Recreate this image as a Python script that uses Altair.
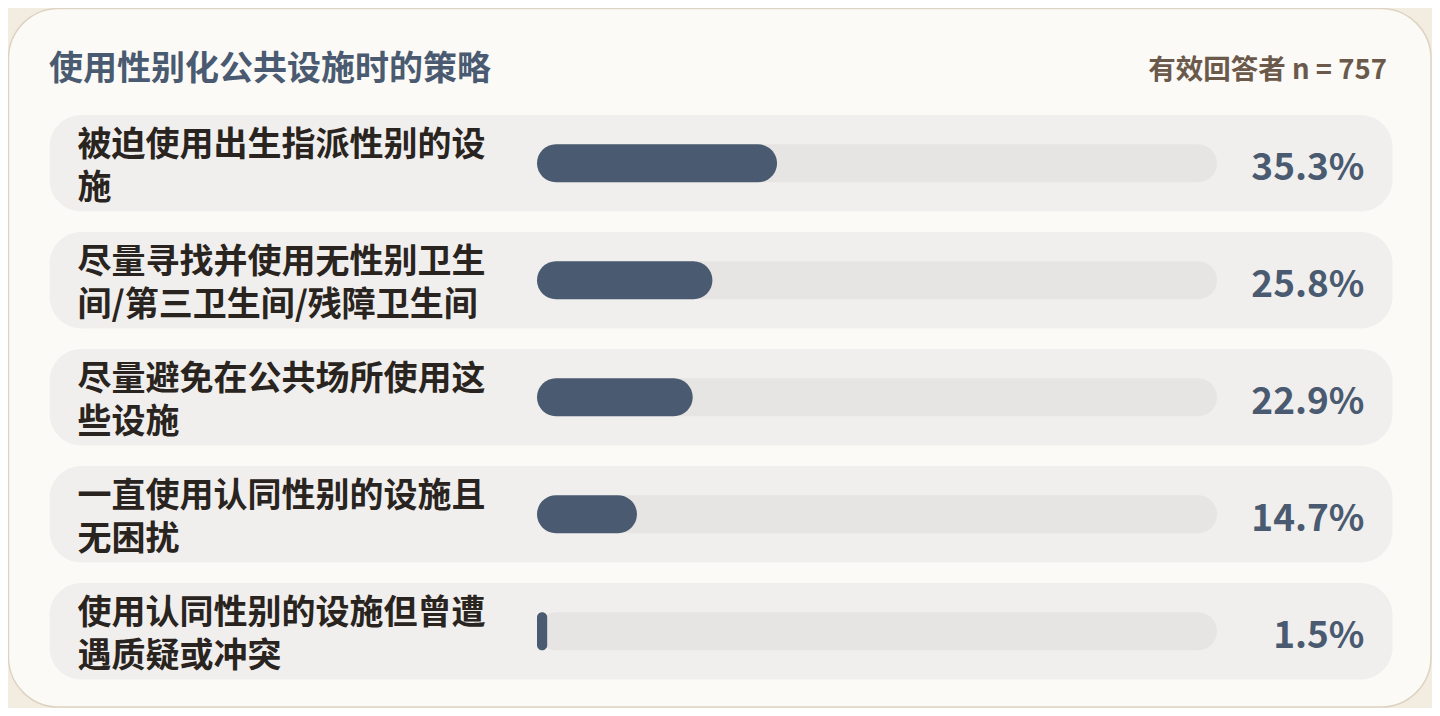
import altair as alt
import pandas as pd

# ---- data ----
title = "使用性别化公共设施时的策略"
subtitle = "有效回答者 n = 757"
categories = [
    "被迫使用出生指派性别的设施",
    "尽量寻找并使用无性别卫生间/第三卫生间/残障卫生间",
    "尽量避免在公共场所使用这些设施",
    "一直使用认同性别的设施且无困扰",
    "使用认同性别的设施但曾遭遇质疑或冲突",
]
values = [35.3, 25.8, 22.9, 14.7, 1.5]

WRAP = 12
label_lines = [[c[:WRAP], c[WRAP:]] if len(c) > WRAP else [c] for c in categories]
value_labels = [f"{v:.1f}%" for v in values]

df = pd.DataFrame({
    "cat": categories,
    "value": values,
    "start": [0] * len(values),
    "full": [100] * len(values),
    "label": label_lines,
    "vlabel": value_labels,
})

W, H = 1424, 700
S = -8  # shift of page margin

row_centers = [163.3 + 117 * i + S for i in range(len(categories))]
yenc = alt.Y("cat:N", scale=alt.Scale(type="point", domain=categories,
                                       range=[row_centers[0], row_centers[-1]], padding=0),
             axis=None)
xscale = alt.Scale(domain=[0, 100], range=[537 + S, 1217 + S])

base = alt.Chart(df)

card = alt.Chart(pd.DataFrame({"k": [1]})).mark_rect(
    fill="#fbfaf7", stroke="#ddd3c2", strokeWidth=1.5, cornerRadius=50
).encode(x=alt.value(0.5), x2=alt.value(1423), y=alt.value(0.5), y2=alt.value(699))

rowbg = base.mark_bar(size=96.5, cornerRadius=32, color="#f0efed").encode(
    y=yenc, x=alt.value(49.5 + S), x2=alt.value(1392.5 + S)
)

track = base.mark_bar(size=38, cornerRadius=19, color="#e6e5e3").encode(
    y=yenc, x=alt.X("start:Q", scale=xscale, axis=None), x2="full:Q"
)

bar = base.mark_bar(size=38, cornerRadius=19, color="#4a5a70").encode(
    y=yenc, x=alt.X("start:Q", scale=xscale, axis=None), x2="value:Q"
)

labels = base.mark_text(
    align="left", baseline="alphabetic", dy=-7, lineHeight=43,
    font="Noto Sans CJK SC", fontSize=34, fontWeight="bold", color="#2a2420"
).encode(y=yenc, x=alt.value(77.5 + S), text="label")

vlabels = base.mark_text(
    align="right", baseline="alphabetic", dy=17,
    font="Noto Sans CJK SC", fontSize=37, fontWeight="bold", color="#4a5a70"
).encode(y=yenc, x=alt.value(1364.5 + S), text="vlabel:N")

tdf = pd.DataFrame({"t": [title]})
sdf = pd.DataFrame({"t": [subtitle]})
title_t = alt.Chart(tdf).mark_text(
    align="left", baseline="alphabetic", font="Noto Sans CJK SC", fontSize=34,
    fontWeight="bold", color="#4a5a70"
).encode(x=alt.value(49 + S), y=alt.value(79.5 + S), text="t:N")
sub_t = alt.Chart(sdf).mark_text(
    align="right", baseline="alphabetic", font="Noto Sans CJK SC", fontSize=27.5,
    fontWeight="bold", color="#6b5a4b"
).encode(x=alt.value(1387 + S), y=alt.value(78.5 + S), text="t:N")

chart = alt.layer(card, rowbg, track, bar, labels, vlabels, title_t, sub_t).properties(
    width=W, height=H, autosize="none", padding=0, background="#f3ece0"
).configure_view(stroke="transparent")

chart.save("out.html", embed_options={"renderer": "svg", "actions": False})
